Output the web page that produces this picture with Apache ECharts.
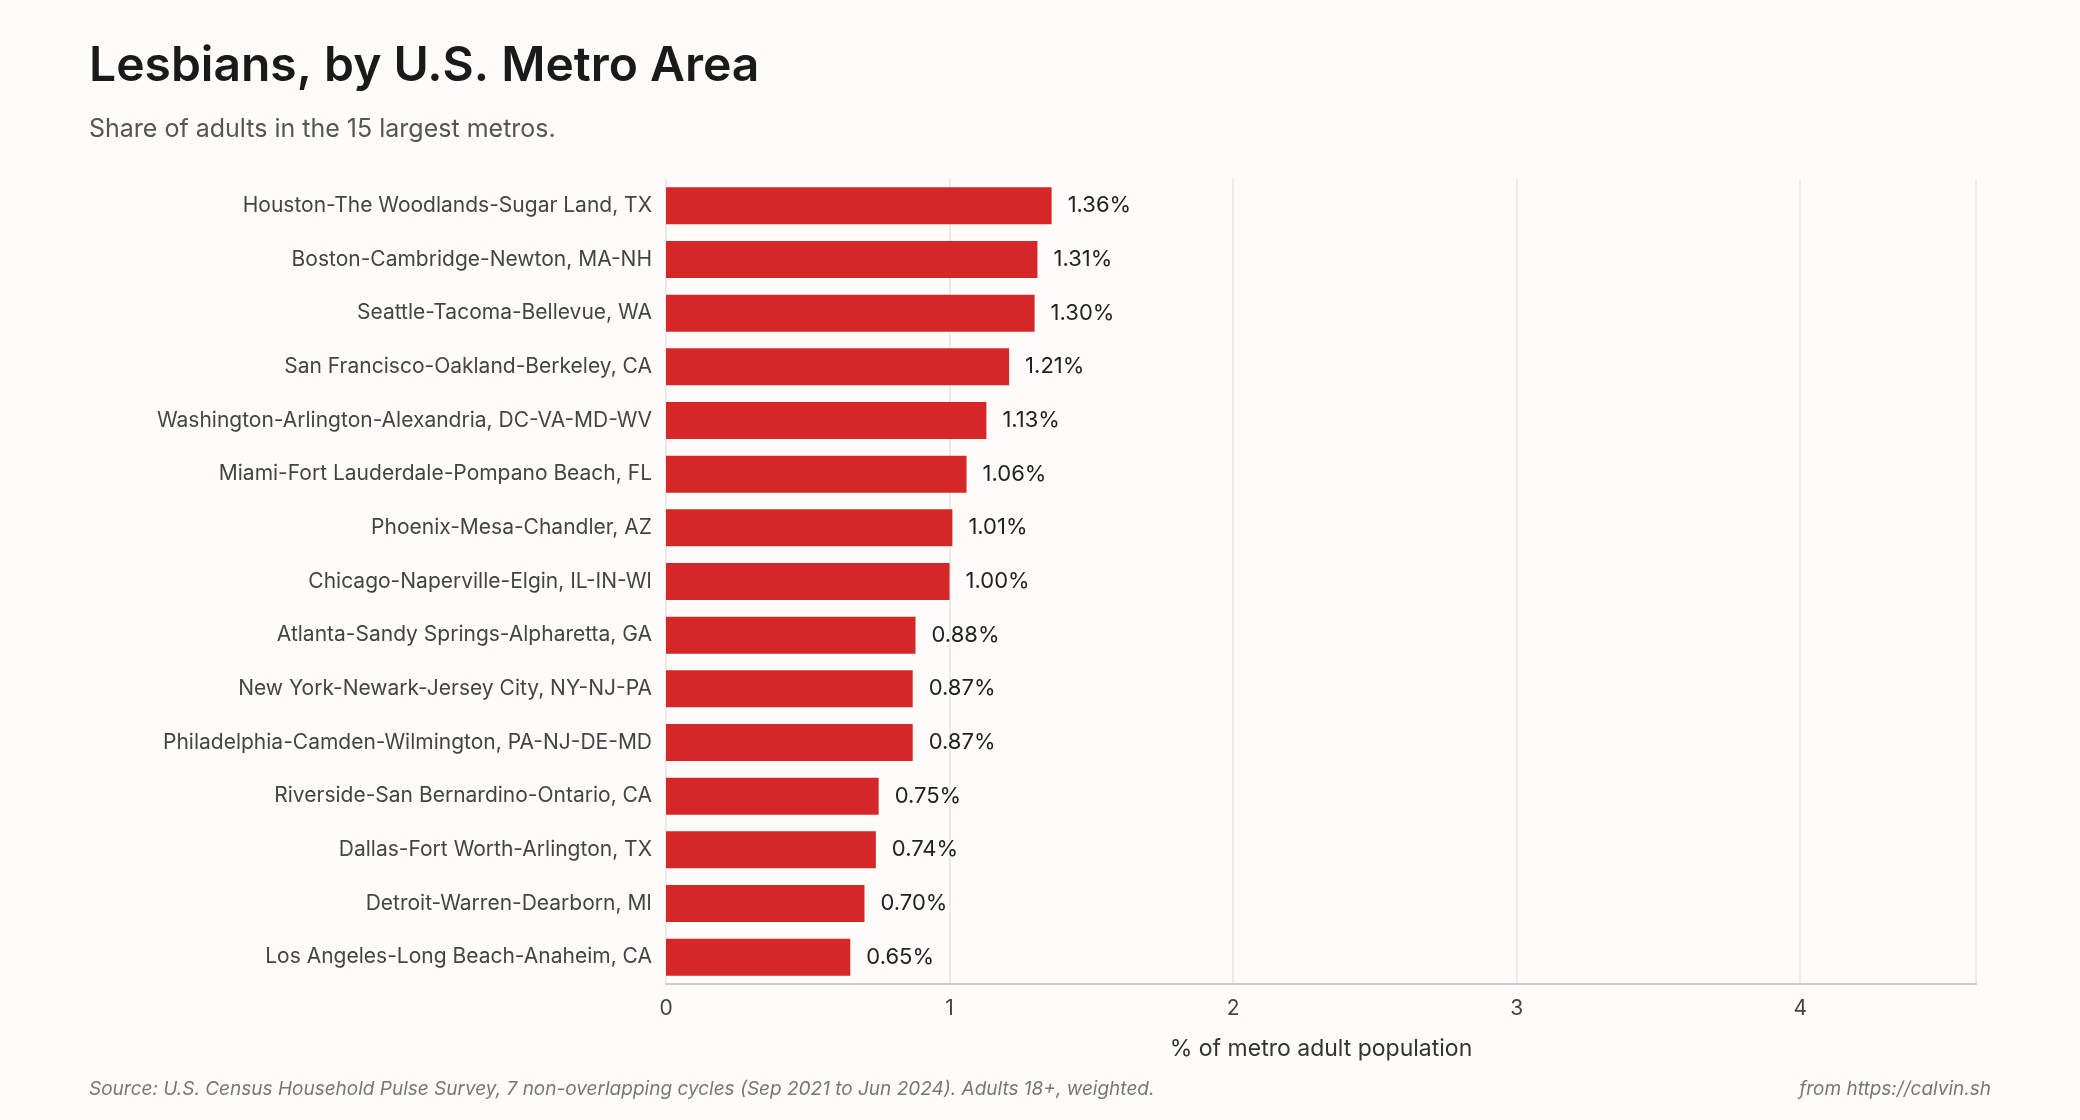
<!DOCTYPE html>
<html>
<head>
<meta charset="utf-8">
<script src="https://cdn.jsdelivr.net/npm/echarts@6/dist/echarts.min.js"></script>
<style>
  html, body { margin: 0; padding: 0; background: #fdfcf9; }
  #chart { width: 2080px; height: 1120px; }
</style>
</head>
<body>
<div id="chart"></div>
<script>
// metros, top to bottom
var metros = [
    'Houston-The Woodlands-Sugar Land, TX',
    'Boston-Cambridge-Newton, MA-NH',
    'Seattle-Tacoma-Bellevue, WA',
    'San Francisco-Oakland-Berkeley, CA',
    'Washington-Arlington-Alexandria, DC-VA-MD-WV',
    'Miami-Fort Lauderdale-Pompano Beach, FL',
    'Phoenix-Mesa-Chandler, AZ',
    'Chicago-Naperville-Elgin, IL-IN-WI',
    'Atlanta-Sandy Springs-Alpharetta, GA',
    'New York-Newark-Jersey City, NY-NJ-PA',
    'Philadelphia-Camden-Wilmington, PA-NJ-DE-MD',
    'Riverside-San Bernardino-Ontario, CA',
    'Dallas-Fort Worth-Arlington, TX',
    'Detroit-Warren-Dearborn, MI',
    'Los Angeles-Long Beach-Anaheim, CA'
];
var shares = [1.36, 1.31, 1.30, 1.21, 1.13, 1.06, 1.01, 1.00, 0.88, 0.87, 0.87, 0.75, 0.74, 0.70, 0.65];

var font = 'Inter, "Noto Sans", sans-serif';
var chart = echarts.init(document.getElementById('chart'));
chart.setOption({
    backgroundColor: '#fdfcf9',
    textStyle: { fontFamily: font },
    title: [
        { text: 'Lesbians, by U.S. Metro Area', left: 84, top: 38,
          textStyle: { fontSize: 48, fontWeight: 600, color: '#1a1a1a', fontFamily: font } },
        { text: 'Share of adults in the 15 largest metros.', left: 84, top: 112,
          textStyle: { fontSize: 25, fontWeight: 400, color: '#555', fontFamily: font } },
        { text: 'Source: U.S. Census Household Pulse Survey, 7 non-overlapping cycles (Sep 2021 to Jun 2024). Adults 18+, weighted.',
          left: 84, top: 1075,
          textStyle: { fontSize: 19, fontStyle: 'italic', fontWeight: 400, color: '#777', fontFamily: font } },
        { text: 'from https://calvin.sh', right: 84, top: 1075,
          textStyle: { fontSize: 19, fontStyle: 'italic', fontWeight: 400, color: '#777', fontFamily: font } }
    ],
    grid: { left: 666, right: 104, top: 179, bottom: 136 },
    xAxis: {
        type: 'value', min: 0, max: 4.62, interval: 1,
        name: '% of metro adult population', nameLocation: 'middle', nameGap: 54,
        nameTextStyle: { fontSize: 23, color: '#333' },
        axisLine: { show: true, lineStyle: { color: '#ccc', width: 2 } },
        axisTick: { show: false },
        axisLabel: { fontSize: 21, color: '#444', margin: 14,
            formatter: function (v) { return v > 4 ? '' : v; } },
        splitLine: { lineStyle: { color: '#e6e6e6', width: 1.5 } }
    },
    yAxis: {
        type: 'category', data: metros, inverse: true,
        axisLine: { show: false }, axisTick: { show: false },
        axisLabel: { fontSize: 21, color: '#444', margin: 14 }
    },
    series: [{
        type: 'bar', data: shares, barCategoryGap: '31%',
        itemStyle: { color: '#d62728' },
        label: { show: true, position: 'right', distance: 16, fontSize: 22, color: '#222',
            formatter: function (p) { return p.value.toFixed(2) + '%'; } }
    }]
});
</script>
</body>
</html>
